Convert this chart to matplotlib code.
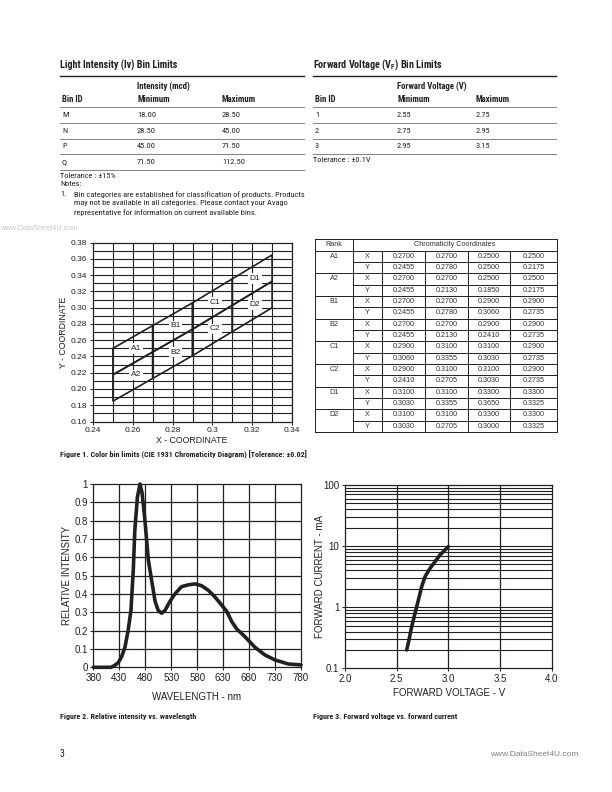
import matplotlib
matplotlib.use('Agg')
import matplotlib.pyplot as plt
from matplotlib.lines import Line2D
from matplotlib.patches import Polygon
from matplotlib.ticker import FixedLocator, NullFormatter
from matplotlib import font_manager as fm
import numpy as np

# ---------------- data ----------------
intensity_bins = ['M', 'N', 'P', 'Q']
intensity_min = ['18.00', '28.50', '45.00', '71.50']
intensity_max = ['28.50', '45.00', '71.50', '112.50']

vf_bins = ['1', '2', '3']
vf_min = ['2.55', '2.75', '2.95']
vf_max = ['2.75', '2.95', '3.15']

chroma_ranks = ['A1', 'A2', 'B1', 'B2', 'C1', 'C2', 'D1', 'D2']
chroma_x = [[0.2700, 0.2700, 0.2500, 0.2500],
            [0.2700, 0.2700, 0.2500, 0.2500],
            [0.2700, 0.2700, 0.2900, 0.2900],
            [0.2700, 0.2700, 0.2900, 0.2900],
            [0.2900, 0.3100, 0.3100, 0.2900],
            [0.2900, 0.3100, 0.3100, 0.2900],
            [0.3100, 0.3100, 0.3300, 0.3300],
            [0.3100, 0.3100, 0.3300, 0.3300]]
chroma_y = [[0.2455, 0.2780, 0.2500, 0.2175],
            [0.2455, 0.2130, 0.1850, 0.2175],
            [0.2455, 0.2780, 0.3060, 0.2735],
            [0.2455, 0.2130, 0.2410, 0.2735],
            [0.3060, 0.3355, 0.3030, 0.2735],
            [0.2410, 0.2705, 0.3030, 0.2735],
            [0.3030, 0.3355, 0.3650, 0.3325],
            [0.3030, 0.2705, 0.3000, 0.3325]]

spectrum_nm = [380, 400, 414, 420, 428, 434.6, 441, 447, 452.5, 457, 460, 465, 470,
               474, 479.5, 486, 492, 499, 505, 511.6, 518, 527.7, 537, 550, 563, 576,
               588.7, 601.5, 614, 627, 637, 646.5, 656, 672, 691, 710.6, 730, 755.6, 780]
spectrum_rel = [0.0, 0.0, 0.0, 0.008, 0.025, 0.058, 0.11, 0.2, 0.31, 0.53, 0.75, 0.93, 1.0,
                0.95, 0.80, 0.585, 0.48, 0.36, 0.31, 0.295, 0.31, 0.36, 0.40, 0.44, 0.45, 0.455,
                0.445, 0.42, 0.385, 0.34, 0.305, 0.25, 0.21, 0.167, 0.11, 0.067, 0.04, 0.018, 0.013]

fwd_voltage = [2.597, 2.619, 2.645, 2.677, 2.710, 2.742, 2.774, 2.823, 2.871, 2.919, 3.0]
fwd_current = [0.2, 0.29, 0.48, 0.79, 1.31, 2.17, 3.16, 4.33, 5.57, 7.16, 9.8]

# ---------------- condensed font detection ----------------
def _is_bold(f):
    w = f.weight
    if isinstance(w, str):
        return 'bold' in w.lower() or w.lower() in ('heavy', 'black')
    return w >= 600


def _is_cond(f):
    s = (f.name + ' ' + f.fname).lower()
    st = str(f.stretch).lower()
    return ('narrow' in s or 'condensed' in s or 'cond' in st or st.isdigit() and int(st) < 500)


cond_reg, cond_bold = None, None
prefs = ['liberation sans narrow', 'roboto condensed', 'open sans condensed', 'dejavu sans',
         'noto sans', 'lato', 'inter']
cands = [f for f in fm.fontManager.ttflist if _is_cond(f) and f.style == 'normal'
         and 'mono' not in f.name.lower() and 'serif' not in f.name.lower().replace('sans', '')]
cands.sort(key=lambda f: next((i for i, p in enumerate(prefs) if f.name.lower().startswith(p)), 99))
for f in cands:
    if _is_bold(f) and cond_bold is None:
        cond_bold = f.fname
    if not _is_bold(f) and cond_reg is None:
        cond_reg = f.fname
HAVE_COND = cond_reg is not None
if cond_bold is None:
    cond_bold = cond_reg

# ---------------- figure ----------------
W, H = 612, 792
fig = plt.figure(figsize=(6.12, 7.92), dpi=100)
fig.patch.set_facecolor('white')

ARIAL = ['Liberation Sans', 'DejaVu Sans']
TXT = '#231f20'


def CP(size, bold=False):
    if HAVE_COND:
        return fm.FontProperties(fname=(cond_bold if bold else cond_reg), size=size)
    return fm.FontProperties(family=ARIAL, size=size * 0.82, weight='bold' if bold else 'normal')


def T(x, y, s, **kw):
    kw.setdefault('va', 'center')
    kw.setdefault('color', TXT)
    return fig.text(x / W, 1 - y / H, s, **kw)


def HL(x0, x1, y, lw=0.6, color='#6d6e71'):
    fig.add_artist(Line2D([x0 / W, x1 / W], [1 - y / H, 1 - y / H], lw=lw,
                          color=color, transform=fig.transFigure))


def VL(x, y0, y1, lw=0.6, color='#6d6e71'):
    fig.add_artist(Line2D([x / W, x / W], [1 - y0 / H, 1 - y1 / H], lw=lw,
                          color=color, transform=fig.transFigure))


TITLE_SZ, HEAD_SZ, BODY_SZ, CAP_SZ = 7.3, 6.3, 6.0, 5.8

# ---------- Light intensity table ----------
T(60, 65, 'Light Intensity (Iv) Bin Limits', fontproperties=CP(TITLE_SZ, True))
HL(60, 304, 75.5, lw=1.0, color='#231f20')
T(137, 86, 'Intensity (mcd)', fontproperties=CP(HEAD_SZ, True))
T(62, 99, 'Bin ID', fontproperties=CP(HEAD_SZ, True))
T(137, 99, 'Minimum', fontproperties=CP(HEAD_SZ, True))
T(222, 99, 'Maximum', fontproperties=CP(HEAD_SZ, True))
HL(60, 304, 107)
row_y0, row_h = 115, 15.7
for i, (b, mn, mx) in enumerate(zip(intensity_bins, intensity_min, intensity_max)):
    y = row_y0 + i * row_h
    T(62, y, b, fontproperties=CP(BODY_SZ))
    T(137, y, mn, fontproperties=CP(BODY_SZ))
    T(222, y, mx, fontproperties=CP(BODY_SZ))
    HL(60, 304, y + 7.8)
T(60, 176, 'Tolerance : \u00b115%', fontproperties=CP(BODY_SZ))
T(60, 184.5, 'Notes:', fontproperties=CP(BODY_SZ))
T(60, 194.5, '1.', fontproperties=CP(BODY_SZ))
T(74, 194.5, 'Bin categories are established for classification of products. Products',
  fontproperties=CP(BODY_SZ))
T(74, 203.5, 'may not be available in all categories. Please contact your Avago',
  fontproperties=CP(BODY_SZ))
T(74, 212.5, 'representative for information on current available bins.',
  fontproperties=CP(BODY_SZ))

# ---------- Forward voltage table ----------
T(313, 65, 'Forward Voltage (V$_\\mathregular{F}$) Bin Limits', fontproperties=CP(TITLE_SZ, True))
HL(313, 556, 75.5, lw=1.0, color='#231f20')
T(397, 86, 'Forward Voltage (V)', fontproperties=CP(HEAD_SZ, True))
T(315, 99, 'Bin ID', fontproperties=CP(HEAD_SZ, True))
T(397, 99, 'Minimum', fontproperties=CP(HEAD_SZ, True))
T(476, 99, 'Maximum', fontproperties=CP(HEAD_SZ, True))
HL(313, 556, 107)
for i, (b, mn, mx) in enumerate(zip(vf_bins, vf_min, vf_max)):
    y = row_y0 + i * row_h
    T(315, y, b, fontproperties=CP(BODY_SZ))
    T(397, y, mn, fontproperties=CP(BODY_SZ))
    T(476, y, mx, fontproperties=CP(BODY_SZ))
    HL(313, 556, y + 7.8)
T(313, 160, 'Tolerance : \u00b10.1V', fontproperties=CP(BODY_SZ))

# ---------- Chromaticity table ----------
cols = [315, 353, 382, 425, 468, 510, 557]
top, hdr = 238.5, 250.5
rh = (432 - hdr) / 16.0
bottom = hdr + 16 * rh
tcol = '#231f20'
HL(cols[0], cols[-1], top, lw=0.7, color=tcol)
HL(cols[0], cols[-1], hdr, lw=0.7, color=tcol)
HL(cols[0], cols[-1], bottom, lw=0.7, color=tcol)
VL(cols[0], top, bottom, lw=0.7, color=tcol)
VL(cols[1], top, bottom, lw=0.7, color=tcol)
VL(cols[-1], top, bottom, lw=0.7, color=tcol)
for c in cols[2:-1]:
    VL(c, hdr, bottom, lw=0.7, color=tcol)
T((cols[0] + cols[1]) / 2, (top + hdr) / 2, 'Rank', family=ARIAL, fontsize=5.2, ha='center', color='#333333')
T((cols[1] + cols[-1]) / 2, (top + hdr) / 2, 'Chromaticity Coordinates', family=ARIAL, fontsize=5.2,
  ha='center', color='#333333')
for k, rank in enumerate(chroma_ranks):
    yx = hdr + (2 * k + 0.5) * rh
    yy = hdr + (2 * k + 1.5) * rh
    if k > 0:
        HL(cols[0], cols[-1], hdr + 2 * k * rh, lw=0.7, color=tcol)
    HL(cols[1], cols[-1], hdr + (2 * k + 1) * rh, lw=0.7, color=tcol)
    T((cols[0] + cols[1]) / 2, yx, rank, family=ARIAL, fontsize=5.2, ha='center', color='#333333')
    T((cols[1] + cols[2]) / 2, yx, 'X', family=ARIAL, fontsize=5.2, ha='center', color='#333333')
    T((cols[1] + cols[2]) / 2, yy, 'Y', family=ARIAL, fontsize=5.2, ha='center', color='#333333')
    for j in range(4):
        cx = (cols[2 + j] + cols[3 + j]) / 2
        T(cx, yx, f'{chroma_x[k][j]:.4f}', family=ARIAL, fontsize=5.2, ha='center', color='#333333')
        T(cx, yy, f'{chroma_y[k][j]:.4f}', family=ARIAL, fontsize=5.2, ha='center', color='#333333')


def ax_px(x0, x1, y0, y1):
    return fig.add_axes([x0 / W, 1 - y1 / H, (x1 - x0) / W, (y1 - y0) / H])


def style_ax(ax, size):
    for s in ax.spines.values():
        s.set_color('#231f20')
        s.set_linewidth(0.9)
    ax.tick_params(direction='out', length=2.5, width=0.7, labelsize=size, pad=1.5,
                   colors='#231f20')
    for lab in ax.get_xticklabels() + ax.get_yticklabels():
        lab.set_family(ARIAL)


# ---------- Figure 1 ----------
ax1 = ax_px(93, 292, 242.7, 421.5)
ax1.set_xlim(0.24, 0.34)
ax1.set_ylim(0.16, 0.38)
ax1.xaxis.set_major_locator(FixedLocator([0.24, 0.26, 0.28, 0.30, 0.32, 0.34]))
ax1.set_xticklabels(['0.24', '0.26', '0.28', '0.3', '0.32', '0.34'])
yt = np.round(np.arange(0.16, 0.381, 0.02), 2)
ax1.yaxis.set_major_locator(FixedLocator(yt))
ax1.set_yticklabels([f'{v:.2f}' for v in yt])
for g in np.round(np.arange(0.25, 0.34, 0.01), 2):
    ax1.axvline(g, color='#231f20', lw=0.8, zorder=1)
for g in np.round(np.arange(0.17, 0.38, 0.01), 2):
    ax1.axhline(g, color='#231f20', lw=0.8, zorder=1)
for k, rank in enumerate(chroma_ranks):
    pts = np.column_stack([chroma_x[k], chroma_y[k]])
    ax1.add_patch(Polygon(pts, closed=True, fill=False, edgecolor='#231f20', lw=1.2, zorder=2))
    cx, cy = np.mean(chroma_x[k]), np.mean(chroma_y[k])
    ax1.text(cx + 0.0015, cy + 0.002, rank, ha='center', va='center', fontsize=6, family=ARIAL,
             color='#231f20', zorder=3, bbox=dict(facecolor='white', edgecolor='none', pad=1.2))
style_ax(ax1, 6)
T(192, 441, 'X - COORDINATE', family=ARIAL, fontsize=6.3, ha='center')
T(63, 332, 'Y - COORDINATE', family=ARIAL, fontsize=6.3, ha='center', rotation=90)
T(60, 455, 'Figure 1. Color bin limits (CIE 1931 Chromaticity Diagram) [Tolerance: \u00b10.02]',
  fontproperties=CP(CAP_SZ, True))

# ---------- Figure 2 ----------
ax2 = ax_px(93.3, 301, 484, 667.3)
ax2.set_xlim(380, 780)
ax2.set_ylim(0, 1)
xt2 = list(range(380, 781, 50))
ax2.xaxis.set_major_locator(FixedLocator(xt2))
ax2.set_xticklabels([str(v) for v in xt2])
yt2 = np.round(np.arange(0, 1.01, 0.1), 1)
ax2.yaxis.set_major_locator(FixedLocator(yt2))
ax2.set_yticklabels(['0' if v == 0 else ('1' if v == 1 else f'{v:.1f}') for v in yt2])
for g in xt2[1:-1]:
    ax2.axvline(g, color='#231f20', lw=0.9, zorder=1)
for g in yt2[1:-1]:
    ax2.axhline(g, color='#231f20', lw=0.9, zorder=1)
ax2.plot(spectrum_nm, spectrum_rel, color='#231f20', lw=2.6, solid_capstyle='round', zorder=3,
         clip_on=False)
style_ax(ax2, 7)
T(197, 697, 'WAVELENGTH - nm', family=ARIAL, fontsize=7, ha='center')
T(67, 575, 'RELATIVE INTENSITY', family=ARIAL, fontsize=7, ha='center', rotation=90)
T(60, 716.5, 'Figure 2. Relative intensity vs. wavelength', fontproperties=CP(CAP_SZ, True))

# ---------- Figure 3 ----------
ax3 = ax_px(345, 551.7, 485, 668.3)
ax3.set_yscale('log')
ax3.set_xlim(2.0, 4.0)
ax3.set_ylim(0.1, 100)
xt3 = [2.0, 2.5, 3.0, 3.5, 4.0]
ax3.xaxis.set_major_locator(FixedLocator(xt3))
ax3.set_xticklabels([f'{v:.1f}' for v in xt3])
ax3.yaxis.set_major_locator(FixedLocator([0.1, 1, 10, 100]))
ax3.set_yticklabels(['0.1', '1', '10', '100'])
ax3.yaxis.set_minor_locator(FixedLocator([]))
ax3.yaxis.set_minor_formatter(NullFormatter())
for g in xt3[1:-1]:
    ax3.axvline(g, color='#231f20', lw=0.9, zorder=1)
for dec in [0.1, 1, 10]:
    for m in range(1, 10):
        v = dec * m
        if 0.1 < v < 100:
            ax3.axhline(v, color='#231f20', lw=0.8, zorder=1)
ax3.plot(fwd_voltage, fwd_current, color='#231f20', lw=2.6, solid_capstyle='round', zorder=3)
style_ax(ax3, 7)
T(449, 693, 'FORWARD VOLTAGE - V', family=ARIAL, fontsize=7, ha='center')
T(320, 577, 'FORWARD CURRENT - mA', family=ARIAL, fontsize=7, ha='center', rotation=90)
T(313, 716.5, 'Figure 3. Forward voltage vs. forward current', fontproperties=CP(CAP_SZ, True))

# ---------- page furniture ----------
T(0, 229, 'www.DataSheet4U.com', family=ARIAL, fontsize=5.3, color='#c8c8c8')
T(60, 754, '3', fontproperties=CP(7))
T(578, 754, 'www.DataSheet4U.com', family=ARIAL, fontsize=6, color='#808080', ha='right')

fig.savefig('out.png', dpi=100, facecolor='white')
